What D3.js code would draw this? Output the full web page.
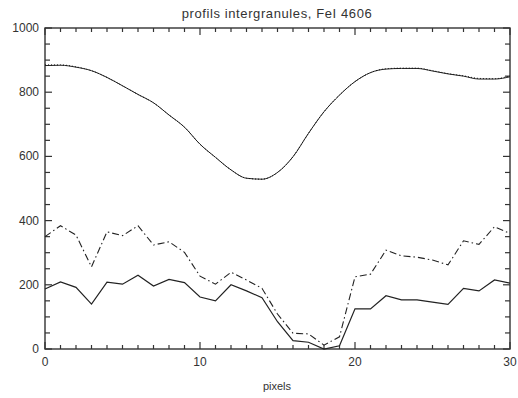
<!DOCTYPE html>
<html>
<head>
<meta charset="utf-8">
<script src="https://cdn.jsdelivr.net/npm/d3@7/dist/d3.min.js"></script>
<style>
  html, body { margin: 0; padding: 0; background: #fff; }
  svg { display: block; }
  text { font-family: "Liberation Sans", Arial, sans-serif; fill: #333; }
</style>
</head>
<body>
<svg id="chart" width="518" height="398"></svg>
<script>
// Pixel positions along the cut
const pixels = d3.range(0, 31);

// Mean intergranular profile (solid) and its smoothed counterpart (dotted)
const profileMean = [883, 884, 878, 867, 846, 820, 793, 767, 729, 691, 638,
                     597, 558, 532, 529, 550, 599, 672, 739, 791, 833,
                     861, 872, 874, 874, 866, 857, 850, 841, 841, 848];
const profileSmooth = [885, 885, 879, 867, 846, 820, 793, 767, 729, 691, 638,
                       597, 558, 532, 529, 550, 599, 672, 739, 791, 833,
                       861, 873, 875, 875, 867, 858, 851, 843, 842, 851];
// Two individual intergranular profiles
const profileDashDot = [350, 384, 355, 256, 365, 353, 384, 324, 334, 301, 227,
                        202, 239, 215, 189, 109, 49, 47, 12, 38, 225,
                        233, 308, 290, 286, 277, 262, 337, 326, 381, 360];
const profileSolid = [187, 209, 192, 140, 208, 202, 230, 196, 217, 207, 162,
                      150, 200, 181, 160, 85, 26, 21, 0, 10, 125,
                      125, 166, 153, 153, 146, 139, 189, 181, 215, 205];

const xTicks = [0, 10, 20, 30];
const yTicks = [0, 200, 400, 600, 800, 1000];
const titleText = "profils intergranules, FeI 4606";
const xTitle = "pixels";

const svg = d3.select("#chart");
const plotLeft = 45, plotRight = 510, plotTop = 28, plotBottom = 349;

const x = d3.scaleLinear().domain([0, 30]).range([plotLeft, plotRight]);
const y = d3.scaleLinear().domain([0, 1000]).range([plotBottom, plotTop]);

const axisColor = "#333";

// Frame
svg.append("rect")
  .attr("x", plotLeft).attr("y", plotTop)
  .attr("width", plotRight - plotLeft).attr("height", plotBottom - plotTop)
  .attr("fill", "none").attr("stroke", axisColor).attr("stroke-width", 1.4);

// Ticks on all four sides (major + minor), pointing inward
const xMinor = d3.range(0, 31, 1).filter(v => v % 10 !== 0);
const yMinor = d3.range(0, 1001, 50).filter(v => v % 200 !== 0);
const ticks = svg.append("g").attr("stroke", axisColor).attr("stroke-width", 1.2);

function xTickLines(vals, len) {
  vals.forEach(v => {
    ticks.append("line").attr("x1", x(v)).attr("x2", x(v)).attr("y1", plotBottom).attr("y2", plotBottom - len);
    ticks.append("line").attr("x1", x(v)).attr("x2", x(v)).attr("y1", plotTop).attr("y2", plotTop + len);
  });
}
function yTickLines(vals, len) {
  vals.forEach(v => {
    ticks.append("line").attr("y1", y(v)).attr("y2", y(v)).attr("x1", plotLeft).attr("x2", plotLeft + len);
    ticks.append("line").attr("y1", y(v)).attr("y2", y(v)).attr("x1", plotRight).attr("x2", plotRight - len);
  });
}
xTickLines(xTicks, 7);
xTickLines(xMinor, 4);
yTickLines(yTicks, 7);
yTickLines(yMinor, 5);

// Tick labels
svg.append("g").selectAll("text").data(xTicks).join("text")
  .attr("x", d => x(d)).attr("y", 366)
  .attr("text-anchor", "middle").attr("font-size", 12)
  .text(d => d);
svg.append("g").selectAll("text").data(yTicks).join("text")
  .attr("x", 39).attr("y", d => y(d) + 4)
  .attr("text-anchor", "end").attr("font-size", 12)
  .text(d => d);

// Titles
svg.append("text").attr("x", 277).attr("y", 18)
  .attr("text-anchor", "middle").attr("font-size", 13)
  .attr("letter-spacing", 0.6)
  .text(titleText);
svg.append("text").attr("x", 277).attr("y", 390)
  .attr("text-anchor", "middle").attr("font-size", 11)
  .text(xTitle);

// Profiles
const line = d3.line().x((d, i) => x(pixels[i])).y(d => y(d));
const lineSmooth = d3.line().x((d, i) => x(pixels[i])).y(d => y(d)).curve(d3.curveMonotoneX);

svg.append("path").datum(profileMean)
  .attr("d", lineSmooth).attr("fill", "none")
  .attr("stroke", "#222").attr("stroke-width", 1);
svg.append("path").datum(profileSmooth)
  .attr("d", lineSmooth).attr("fill", "none")
  .attr("stroke", "#111").attr("stroke-width", 1)
  .attr("stroke-dasharray", "1,2");

svg.append("path").datum(profileDashDot)
  .attr("d", line).attr("fill", "none")
  .attr("stroke", "#222").attr("stroke-width", 1.1)
  .attr("stroke-dasharray", "7,3,1.5,3");

svg.append("path").datum(profileSolid)
  .attr("d", line).attr("fill", "none")
  .attr("stroke", "#222").attr("stroke-width", 1.2);
</script>
</body>
</html>
